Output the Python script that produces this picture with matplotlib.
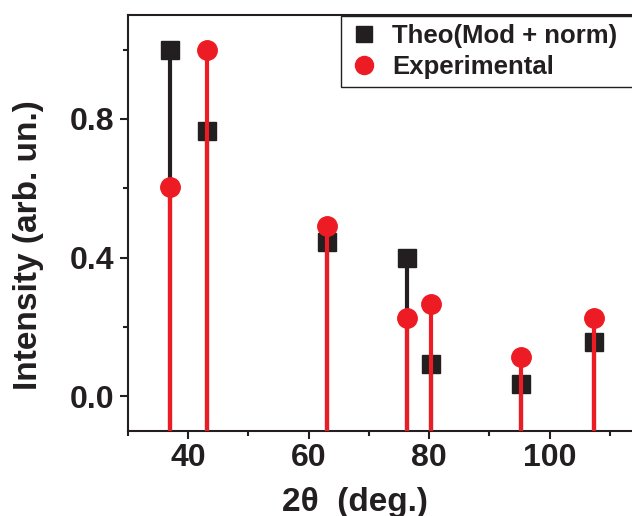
import matplotlib
matplotlib.use("Agg")
import matplotlib.pyplot as plt
from matplotlib.lines import Line2D
from matplotlib.ticker import MultipleLocator, FixedLocator, FormatStrFormatter

plt.rcParams["font.family"] = ["Liberation Sans", "DejaVu Sans"]
plt.rcParams["font.weight"] = "bold"

# 峰位 2θ (deg.)
two_theta = [37.0, 43.2, 63.1, 76.4, 80.3, 95.3, 107.4]
# 理论强度 (Mod + norm)
theo = [1.0, 0.766, 0.446, 0.398, 0.093, 0.036, 0.157]
# 实验强度
expt = [0.603, 1.0, 0.491, 0.227, 0.265, 0.114, 0.227]
x_ticks = [40, 60, 80, 100]

RED = "#ED1C24"
BLACK = "#231F20"

W, H = 632, 516
fig = plt.figure(figsize=(W / 100, H / 100), dpi=100)
# 轴右侧超出画布（原图被裁掉了）
ax = fig.add_axes([128 / W, 1 - 431 / H, 542 / W, 416 / H])

ax.vlines(two_theta, -0.2, theo, colors=BLACK, linewidth=3, zorder=2)
ax.plot(two_theta, theo, "s", color=BLACK, markersize=12.5, zorder=3)
ax.vlines(two_theta, -0.2, expt, colors=RED, linewidth=3, zorder=4)
ax.plot(two_theta, expt, "o", color=RED, markersize=14, zorder=5)

ax.set_xlim(30, 120)
ax.set_ylim(-0.1, 1.1)
ax.xaxis.set_major_locator(FixedLocator(x_ticks))
ax.xaxis.set_minor_locator(MultipleLocator(10))
ax.yaxis.set_major_locator(MultipleLocator(0.4))
ax.yaxis.set_minor_locator(MultipleLocator(0.2))
ax.yaxis.set_major_formatter(FormatStrFormatter("%.1f"))

for sp in ax.spines.values():
    sp.set_linewidth(1.5)
    sp.set_color(BLACK)
ax.tick_params(which="major", direction="out", length=6, width=1.5, color=BLACK,
               labelsize=23, labelcolor=BLACK)
ax.tick_params(which="minor", direction="out", length=3.5, width=1.5, color=BLACK)
ax.tick_params(axis="x", which="major", pad=3)
ax.tick_params(axis="y", which="major", pad=4)

ax.set_xlabel("2θ  (deg.)", fontsize=24, fontweight="bold", color=BLACK)
ax.set_ylabel("Intensity (arb. un.)", fontsize=24, fontweight="bold", color=BLACK)
ax.xaxis.set_label_coords(0.418, -0.135)
ax.yaxis.set_label_coords(-0.155, 0.447)

handles = [
    Line2D([], [], marker="s", linestyle="none", color=BLACK, markersize=11.5),
    Line2D([], [], marker="o", linestyle="none", color=RED, markersize=13),
]
# 图例框右边也超出画布
leg = fig.legend(handles, ["Theo(Mod + norm)", "Experimental"],
                 loc="upper left", bbox_to_anchor=(341 / W, 1 - 16 / H, 310 / W, 0),
                 mode="expand",
                 fontsize=18.5, frameon=True, fancybox=False, framealpha=1,
                 edgecolor=BLACK, handlelength=1.2, handletextpad=0.5,
                 borderpad=0.3, labelspacing=0.3, borderaxespad=0)
leg.get_frame().set_linewidth(1.0)
for t in leg.get_texts():
    t.set_fontweight("bold")
    t.set_color(BLACK)

fig.savefig("out.png", dpi=100)
